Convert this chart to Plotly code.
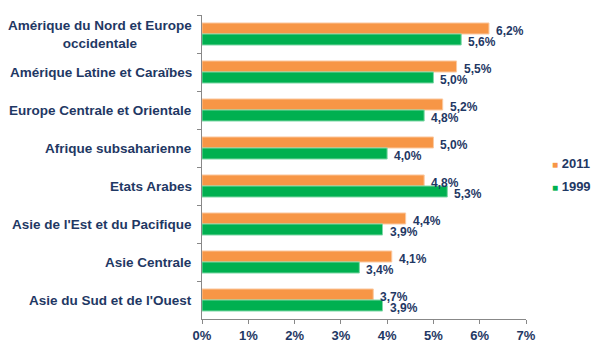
import plotly.graph_objects as go

categories = [
    "Amérique du Nord et Europe<br>occidentale",
    "Amérique Latine et Caraïbes",
    "Europe Centrale et Orientale",
    "Afrique subsaharienne",
    "Etats Arabes",
    "Asie de l'Est et du Pacifique",
    "Asie Centrale",
    "Asie du Sud et de l'Ouest",
]
values_2011 = [6.2, 5.5, 5.2, 5.0, 4.8, 4.4, 4.1, 3.7]
values_1999 = [5.6, 5.0, 4.8, 4.0, 5.3, 3.9, 3.4, 3.9]
series_names = ["2011", "1999"]
x_ticks = [0, 1, 2, 3, 4, 5, 6, 7]
x_ticklabels = ["0%", "1%", "2%", "3%", "4%", "5%", "6%", "7%"]

NAVY = "#1F3864"
ORANGE = "#F79646"
GREEN = "#00B050"
FONT = "Liberation Sans, Arial, sans-serif"

def fmt(v):
    return f"{v:.1f}".replace(".", ",") + "%"

fig = go.Figure()
fig.add_trace(go.Bar(
    name=series_names[0], y=categories, x=values_2011, orientation="h",
    marker=dict(color=ORANGE, line=dict(color="#FBC9A0", width=1)),
    showlegend=False,
))
fig.add_trace(go.Bar(
    name=series_names[1], y=categories, x=values_1999, orientation="h",
    marker=dict(color=GREEN, line=dict(color="#80D8A8", width=1)),
    showlegend=False,
))

annotations = []
for c in categories:
    annotations.append(dict(
        x=0, xref="paper", y=c, yref="y", text=f"<b>{c}</b>",
        xanchor="right", yanchor="middle", align="center", xshift=-8,
        showarrow=False, font=dict(family=FONT, size=13.5, color=NAVY),
    ))
for c, v in zip(categories, values_2011):
    annotations.append(dict(
        x=v, xref="x", y=c, yref="y", text=f"<b>{fmt(v)}</b>",
        xanchor="left", yanchor="middle", xshift=5, yshift=3.5,
        showarrow=False, font=dict(family=FONT, size=12, color=NAVY),
    ))
for c, v in zip(categories, values_1999):
    annotations.append(dict(
        x=v, xref="x", y=c, yref="y", text=f"<b>{fmt(v)}</b>",
        xanchor="left", yanchor="middle", xshift=5, yshift=-7.5,
        showarrow=False, font=dict(family=FONT, size=12, color=NAVY),
    ))

# legend drawn as text entries (small coloured squares + series name)
legend_colors = [ORANGE, GREEN]
legend_y = [0.51, 0.435]
for name, col, ly in zip(series_names, legend_colors, legend_y):
    annotations.append(dict(
        x=1.075, xref="paper", y=ly, yref="paper",
        text=f"<span style='color:{col};font-size:10px'>■</span> <b>{name}</b>",
        xanchor="left", yanchor="middle", showarrow=False,
        font=dict(family=FONT, size=13, color=NAVY),
    ))

fig.update_layout(
    width=605, height=355,
    margin=dict(l=202, r=79, t=15, b=32),
    paper_bgcolor="white", plot_bgcolor="white",
    barmode="group", bargap=0.42, bargroupgap=0.0,
    font=dict(family=FONT, size=12, color=NAVY),
    annotations=annotations,
    showlegend=False,
    xaxis=dict(
        range=[0, 7], tickvals=x_ticks, ticktext=x_ticklabels,
        showgrid=False, zeroline=False, showline=True, linecolor="#888888",
        ticks="outside", ticklen=4, tickcolor="#888888",
        tickfont=dict(family=FONT, size=13, color=NAVY, weight="bold"),
    ),
    yaxis=dict(
        autorange="reversed", showticklabels=False, showgrid=False,
        showline=True, linecolor="#888888", ticks="outside", ticklen=4,
        tickcolor="#888888", tickson="boundaries",
    ),
)

fig.write_html(
    "out.html",
    config={"displayModeBar": False},
    post_script="document.body.style.margin='0';document.body.style.overflow='hidden';",
)
